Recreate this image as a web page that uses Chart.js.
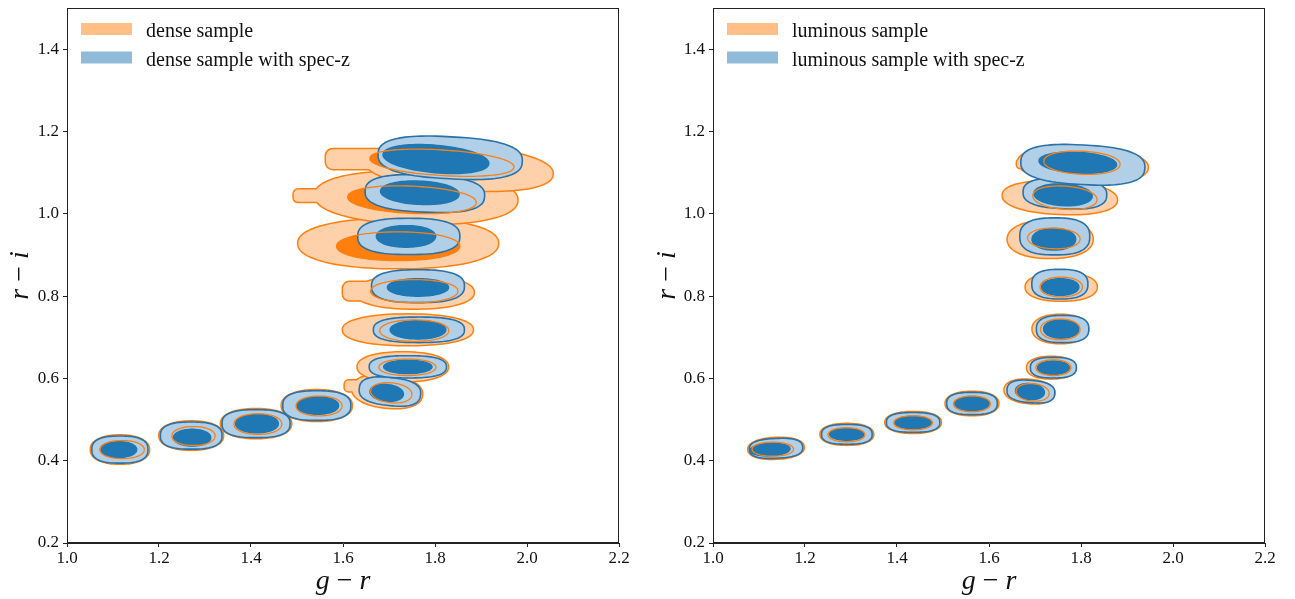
<!DOCTYPE html>
<html>
<head>
<meta charset="utf-8">
<script src="https://cdn.jsdelivr.net/npm/chart.js@4.4.1/dist/chart.umd.min.js"></script>
<style>
  html, body { margin: 0; padding: 0; background: #fff; }
  #wrap { display: flex; width: 1295px; height: 599px; }
  canvas { display: block; }
</style>
</head>
<body>
<div id="wrap">
  <canvas id="dense" width="647" height="599"></canvas>
  <canvas id="lum" width="648" height="599"></canvas>
</div>
<script>
const xTicks = [1.0, 1.2, 1.4, 1.6, 1.8, 2.0, 2.2];
const yTicks = [0.2, 0.4, 0.6, 0.8, 1.0, 1.2, 1.4];
const xRange = [1.0, 2.2];
const yRange = [0.2, 1.5];

// contour blobs, one per redshift bin:
// [g-r centre, r-i centre, half-width in g-r, half-height in r-i, tilt d(r-i)/d(g-r)]
const denseOuter = [
  [1.115, 0.427, 0.063, 0.034, 0],
  [1.270, 0.461, 0.069, 0.034, 0],
  [1.411, 0.490, 0.076, 0.035, 0],
  [1.543, 0.534, 0.076, 0.037, 0],
  [1.696, 0.568, 0.076, 0.039, -0.12],
  [1.730, 0.628, 0.098, 0.035, 0],
  [1.741, 0.718, 0.141, 0.037, 0],
  [1.755, 0.809, 0.129, 0.039, 0],
  [1.720, 0.928, 0.217, 0.060, 0],
  [1.759, 1.039, 0.220, 0.063, -0.03],
  [1.852, 1.112, 0.204, 0.053, -0.08],
];
const denseInner = [
  [1.120, 0.427, 0.048, 0.022, 0],
  [1.275, 0.460, 0.047, 0.023, 0],
  [1.415, 0.489, 0.052, 0.025, 0],
  [1.548, 0.533, 0.050, 0.024, 0],
  [1.705, 0.565, 0.045, 0.024, -0.12],
  [1.740, 0.627, 0.062, 0.020, 0],
  [1.755, 0.716, 0.075, 0.026, 0],
  [1.755, 0.812, 0.095, 0.028, 0],
  [1.720, 0.921, 0.134, 0.035, 0],
  [1.750, 1.034, 0.140, 0.033, -0.05],
  [1.815, 1.124, 0.157, 0.031, -0.07],
];
const denseSpecOuter = [
  [1.115, 0.427, 0.061, 0.033, 0],
  [1.270, 0.461, 0.067, 0.033, 0],
  [1.411, 0.490, 0.074, 0.034, 0],
  [1.543, 0.534, 0.074, 0.036, 0],
  [1.702, 0.568, 0.067, 0.034, -0.12],
  [1.741, 0.628, 0.084, 0.027, 0],
  [1.765, 0.718, 0.099, 0.031, 0],
  [1.763, 0.824, 0.101, 0.040, 0],
  [1.743, 0.945, 0.111, 0.044, 0],
  [1.778, 1.049, 0.130, 0.045, -0.05],
  [1.833, 1.136, 0.157, 0.051, -0.06],
];
const denseSpecInner = [
  [1.112, 0.427, 0.041, 0.021, 0],
  [1.272, 0.456, 0.042, 0.022, 0],
  [1.413, 0.490, 0.048, 0.024, 0],
  [1.545, 0.534, 0.047, 0.023, 0],
  [1.695, 0.565, 0.038, 0.022, -0.12],
  [1.741, 0.628, 0.054, 0.018, 0],
  [1.763, 0.718, 0.062, 0.024, 0],
  [1.763, 0.821, 0.068, 0.023, 0],
  [1.737, 0.945, 0.066, 0.028, 0],
  [1.767, 1.051, 0.087, 0.030, -0.05],
  [1.802, 1.133, 0.117, 0.035, -0.10],
];
// flat extensions on the blue side of some outer contours:
// [blob index, g-r start, r-i centre, half-height]
const denseTails = [
  [4, 1.604, 0.582, 0.013],
  [7, 1.600, 0.812, 0.022],
  [9, 1.493, 1.044, 0.015],
  [10, 1.563, 1.133, 0.024],
];

const lumOuter = [
  [1.137, 0.430, 0.060, 0.025, 0.05],
  [1.291, 0.464, 0.057, 0.025, 0],
  [1.435, 0.493, 0.060, 0.025, 0],
  [1.563, 0.539, 0.057, 0.028, 0],
  [1.688, 0.568, 0.054, 0.028, -0.1],
  [1.735, 0.626, 0.052, 0.026, 0],
  [1.755, 0.720, 0.060, 0.034, 0],
  [1.757, 0.822, 0.077, 0.033, 0],
  [1.733, 0.938, 0.092, 0.045, 0],
  [1.754, 1.039, 0.124, 0.039, -0.05],
  [1.804, 1.119, 0.141, 0.042, -0.05],
];
const lumInner = [
  [1.130, 0.428, 0.045, 0.017, 0],
  [1.290, 0.463, 0.040, 0.017, 0],
  [1.435, 0.492, 0.042, 0.017, 0],
  [1.563, 0.538, 0.040, 0.019, 0],
  [1.695, 0.566, 0.036, 0.021, -0.1],
  [1.740, 0.626, 0.038, 0.019, 0],
  [1.755, 0.719, 0.043, 0.025, 0],
  [1.757, 0.822, 0.046, 0.024, 0],
  [1.741, 0.940, 0.057, 0.025, -0.03],
  [1.765, 1.039, 0.070, 0.028, -0.08],
  [1.802, 1.124, 0.083, 0.028, -0.05],
];
const lumSpecOuter = [
  [1.137, 0.430, 0.058, 0.024, 0.05],
  [1.291, 0.464, 0.055, 0.024, 0],
  [1.435, 0.493, 0.058, 0.024, 0],
  [1.563, 0.539, 0.055, 0.027, 0],
  [1.691, 0.568, 0.052, 0.027, -0.1],
  [1.740, 0.626, 0.050, 0.025, 0],
  [1.760, 0.720, 0.057, 0.033, 0],
  [1.754, 0.829, 0.061, 0.036, 0],
  [1.743, 0.945, 0.076, 0.045, 0],
  [1.765, 1.049, 0.091, 0.037, -0.05],
  [1.804, 1.119, 0.135, 0.048, -0.06],
];
const lumSpecInner = [
  [1.124, 0.427, 0.045, 0.017, 0.05],
  [1.291, 0.464, 0.039, 0.016, 0],
  [1.435, 0.493, 0.041, 0.017, 0],
  [1.563, 0.539, 0.039, 0.019, 0],
  [1.689, 0.568, 0.033, 0.021, -0.1],
  [1.740, 0.626, 0.036, 0.018, 0],
  [1.757, 0.720, 0.040, 0.024, 0],
  [1.755, 0.822, 0.042, 0.022, 0],
  [1.741, 0.938, 0.049, 0.028, 0],
  [1.761, 1.046, 0.065, 0.028, -0.06],
  [1.793, 1.124, 0.086, 0.027, -0.06],
];
const lumTails = [
  [10, 1.661, 1.122, 0.010],
];

const ORANGE = "#ff7f0e";
const ORANGE_FILL = "#ffd1aa";
const BLUE = "#1f77b4";
const BLUE_LINE = "#2a72a8";
const BLUE_FILL = "#b1cfe6";
const SERIF = "'Liberation Serif', 'DejaVu Serif', serif";

function toPoints(rows) {
  return rows.map(r => ({ x: r[0], y: r[1], hw: r[2], hh: r[3], tilt: r[4] }));
}

// rounded-box outline (superellipse, exponent n) around a parsed point;
// radii and tilt go through the scales
function blobPath(ctx, xs, ys, p, el, n) {
  const rx = Math.abs(xs.getPixelForValue(p.x + p.hw) - el.x);
  const ry = Math.abs(ys.getPixelForValue(p.y + p.hh) - el.y);
  const ang = Math.atan2(ys.getPixelForValue(p.y + p.tilt * p.hw) - el.y, rx);
  const ca = Math.cos(ang), sa = Math.sin(ang);
  const e = 2 / n;
  for (let k = 0; k <= 96; k++) {
    const t = (k / 96) * Math.PI * 2;
    const c = Math.cos(t), s = Math.sin(t);
    const u = rx * Math.sign(c) * Math.pow(Math.abs(c), e);
    const v = ry * Math.sign(s) * Math.pow(Math.abs(s), e);
    const px = el.x + u * ca - v * sa;
    const py = el.y + u * sa + v * ca;
    if (k === 0) ctx.moveTo(px, py); else ctx.lineTo(px, py);
  }
  ctx.closePath();
}

function tailPath(ctx, xs, ys, t, el) {
  const x0 = xs.getPixelForValue(t[1]);
  const yc = ys.getPixelForValue(t[2]);
  const h = Math.abs(ys.getPixelForValue(t[2] + t[3]) - yc);
  ctx.moveTo(el.x, yc - h);
  ctx.roundRect(x0, yc - h, el.x - x0, 2 * h, [h * 0.7, 0, 0, h * 0.7]);
}

function layer(chart, role) {
  const i = chart.data.datasets.findIndex(d => d.role === role);
  return [chart.data.datasets[i], chart.getDatasetMeta(i).data];
}

const contourLayers = {
  id: "contourLayers",
  afterDatasetsDraw(chart) {
    const { ctx, chartArea: a, scales: { x: xs, y: ys } } = chart;
    ctx.save();
    ctx.beginPath();
    ctx.rect(a.left, a.top, a.width, a.height);
    ctx.clip();
    ctx.lineJoin = "round";

    // outer photometric contour: wide stroke then opaque fill, so only the outline of blob + tail remains
    const [outer, outerEls] = layer(chart, "outer");
    outer.data.forEach((p, j) => {
      ctx.beginPath();
      blobPath(ctx, xs, ys, p, outerEls[j], 2.2);
      outer.tails.filter(t => t[0] === j).forEach(t => tailPath(ctx, xs, ys, t, outerEls[j]));
      ctx.lineWidth = 3;
      ctx.strokeStyle = ORANGE;
      ctx.stroke();
      ctx.fillStyle = ORANGE_FILL;
      ctx.fill();
    });

    const [inner, innerEls] = layer(chart, "inner");
    inner.data.forEach((p, j) => {
      ctx.beginPath();
      blobPath(ctx, xs, ys, p, innerEls[j], 2.1);
      ctx.fillStyle = ORANGE;
      ctx.fill();
    });

    const [sOuter, sOuterEls] = layer(chart, "specOuter");
    sOuter.data.forEach((p, j) => {
      ctx.beginPath();
      blobPath(ctx, xs, ys, p, sOuterEls[j], 2.6);
      ctx.fillStyle = BLUE_FILL;
      ctx.fill();
      ctx.lineWidth = 1.6;
      ctx.strokeStyle = BLUE_LINE;
      ctx.stroke();
    });

    const [sInner, sInnerEls] = layer(chart, "specInner");
    sInner.data.forEach((p, j) => {
      ctx.beginPath();
      blobPath(ctx, xs, ys, p, sInnerEls[j], 2.1);
      ctx.fillStyle = BLUE;
      ctx.fill();
    });

    // inner photometric contour line stays visible on top of the spec-z fills
    inner.data.forEach((p, j) => {
      ctx.beginPath();
      blobPath(ctx, xs, ys, p, innerEls[j], 2.1);
      ctx.lineWidth = 1.3;
      ctx.strokeStyle = ORANGE;
      ctx.stroke();
    });
    ctx.restore();
  },
  afterDraw(chart) {
    const { ctx, chartArea: a } = chart;
    ctx.save();
    // box frame
    ctx.strokeStyle = "#222";
    ctx.lineWidth = 1;
    ctx.strokeRect(Math.round(a.left) + 0.5, Math.round(a.top) + 0.5,
                   Math.round(a.width) - 1, Math.round(a.height) - 1);

    // legend
    const legendItems = chart.data.datasets.filter(d => d.legendColor);
    legendItems.forEach((d, i) => {
      const top = a.top + 15 + i * 28.5;
      ctx.fillStyle = d.legendColor;
      ctx.fillRect(a.left + 14, top, 51, 12);
      ctx.fillStyle = "#111";
      ctx.font = "20px " + SERIF;
      ctx.textAlign = "left";
      ctx.textBaseline = "alphabetic";
      ctx.fillText(d.label, a.left + 79, top + 14);
    });

    // axis titles
    drawMath(ctx, chart.options.axisNames[0], (a.left + a.right) / 2, 589, 0);
    drawMath(ctx, chart.options.axisNames[1], 28, (a.top + a.bottom) / 2, -Math.PI / 2);
    ctx.restore();
  }
};

function drawMath(ctx, parts, cx, cy, rot) {
  const fonts = parts.map(p => (p[1] ? "italic " : "") + "28px " + SERIF);
  const widths = parts.map((p, i) => { ctx.font = fonts[i]; return ctx.measureText(p[0]).width; });
  const total = widths.reduce((s, w) => s + w, 0);
  ctx.save();
  ctx.translate(cx, cy);
  ctx.rotate(rot);
  ctx.fillStyle = "#111";
  ctx.textAlign = "left";
  ctx.textBaseline = "alphabetic";
  let x = -total / 2;
  parts.forEach((p, i) => {
    ctx.font = fonts[i];
    ctx.fillText(p[0], x, 0);
    x += widths[i];
  });
  ctx.restore();
}

function noEdgePadding(s) {
  s.paddingTop = 0; s.paddingBottom = 0; s.paddingLeft = 0; s.paddingRight = 0;
}

function makeChart(id, labels, rows, tails, axisWidth, rightPad) {
  const [outer, inner, sOuter, sInner] = rows;
  const base = { pointRadius: 0, pointHoverRadius: 0, showLine: false };
  return new Chart(document.getElementById(id), {
    type: "scatter",
    data: {
      datasets: [
        { ...base, label: labels[0], role: "outer", data: toPoints(outer), tails, legendColor: "#ffbf87" },
        { ...base, label: labels[0] + " (inner)", role: "inner", data: toPoints(inner) },
        { ...base, label: labels[1], role: "specOuter", data: toPoints(sOuter), legendColor: "#8fbbd9" },
        { ...base, label: labels[1] + " (inner)", role: "specInner", data: toPoints(sInner) },
      ],
    },
    options: {
      responsive: false,
      animation: false,
      devicePixelRatio: 1,
      axisNames: [[["g", true], [" \u2212 ", false], ["r", true]], [["r", true], [" \u2212 ", false], ["i", true]]],
      layout: { padding: { left: 0, right: rightPad, top: 8, bottom: 0 } },
      plugins: { legend: { display: false }, tooltip: { enabled: false } },
      scales: {
        x: {
          type: "linear", min: xRange[0], max: xRange[1],
          afterBuildTicks: s => { s.ticks = xTicks.map(v => ({ value: v })); },
          afterFit: s => { s.height = 56; noEdgePadding(s); },
          ticks: { callback: v => v.toFixed(1), font: { family: SERIF, size: 17 }, color: "#111",
                   padding: 1, maxRotation: 0, autoSkip: false },
          grid: { drawOnChartArea: false, tickLength: 4, tickColor: "#222" },
          border: { color: "#222" },
        },
        y: {
          type: "linear", min: yRange[0], max: yRange[1],
          afterBuildTicks: s => { s.ticks = yTicks.map(v => ({ value: v })); },
          afterFit: s => { s.width = axisWidth; noEdgePadding(s); },
          ticks: { callback: v => v.toFixed(1), font: { family: SERIF, size: 17 }, color: "#111",
                   padding: 4, autoSkip: false },
          grid: { drawOnChartArea: false, tickLength: 4, tickColor: "#222" },
          border: { color: "#222" },
        },
      },
    },
    plugins: [contourLayers],
  });
}

makeChart("dense", ["dense sample", "dense sample with spec-z"],
          [denseOuter, denseInner, denseSpecOuter, denseSpecInner], denseTails, 67, 28);
makeChart("lum", ["luminous sample", "luminous sample with spec-z"],
          [lumOuter, lumInner, lumSpecOuter, lumSpecInner], lumTails, 66, 30);
</script>
</body>
</html>
